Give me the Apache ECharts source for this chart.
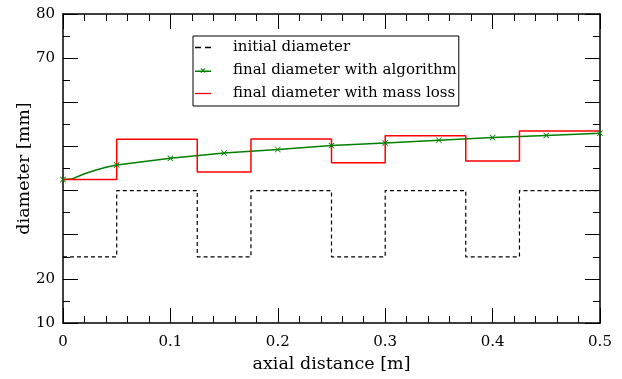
<!DOCTYPE html>
<html>
<head>
<meta charset="utf-8">
<script src="https://cdn.jsdelivr.net/npm/echarts@6/dist/echarts.min.js"></script>
<style>
  html, body { margin: 0; padding: 0; background: #fff; }
  #chart { width: 622px; height: 379px; }
</style>
</head>
<body>
<div id="chart"></div>
<script>
// step edges along the axis (m)
const stepEdges = [0, 0.05, 0.125, 0.175, 0.25, 0.3, 0.375, 0.425, 0.5];
// diameters on each step (mm)
const initialLevels = [25, 40, 25, 40, 25, 40, 25, 40];
const massLossLevels = [42.5, 51.6, 44.2, 51.7, 46.3, 52.4, 46.7, 53.5];
// algorithm curve
const algX = [0, 0.008, 0.015, 0.02, 0.03, 0.04, 0.05, 0.1, 0.15, 0.2, 0.25, 0.3, 0.35, 0.4, 0.45, 0.5];
const algY = [42.5, 42.6, 43.3, 43.8, 44.6, 45.3, 45.8, 47.3, 48.5, 49.3, 50.2, 50.8, 51.4, 52.0, 52.5, 53.0];
const markerX = [0, 0.05, 0.1, 0.15, 0.2, 0.25, 0.3, 0.35, 0.4, 0.45, 0.5];
// tick labels shown on the y axis
const yTickLabels = [10, 20, 70, 80];

const seriesNames = ['initial diameter', 'final diameter with algorithm', 'final diameter with mass loss'];

const font = 'DejaVu Serif';
const crossPath = 'path://M0,1 L1,0 L5,4 L9,0 L10,1 L6,5 L10,9 L9,10 L5,6 L1,10 L0,9 L4,5 Z';

// legend icons: dashed line, line with cross, plain line
const iconDash = 'path://M0,0h6v1.3h-6z M10,0h6v1.3h-6z';
const iconCross = 'path://M0,3.4h16v1.3h-16z M5.5,1.5l0.7,-0.7l1.8,1.8l1.8,-1.8l0.7,0.7l-1.8,1.8l1.8,1.8l-0.7,0.7l-1.8,-1.8l-1.8,1.8l-0.7,-0.7l1.8,-1.8z';
const iconLine = 'path://M0,0h16v1.3h-16z';

// step data: one point per edge, last level repeated at the end
const toSteps = (levels) => {
  const d = levels.map((v, i) => [stepEdges[i], v]);
  d.push([stepEdges[stepEdges.length - 1], levels[levels.length - 1]]);
  return d;
};

const algData = algX.map((x, i) => {
  const item = {value: [x, algY[i]]};
  if (!markerX.includes(x)) item.symbol = 'none';
  return item;
});

const axisCommon = {
  axisLine: {show: true, onZero: false, lineStyle: {color: '#000', width: 1.5}},
  axisTick: {show: true, inside: true, length: 15, lineStyle: {color: '#000', width: 1}},
  minorTick: {show: true, length: 7, lineStyle: {color: '#000', width: 1}},
  splitLine: {show: false}
};

const xBase = Object.assign({type: 'value', min: 0, max: 0.5, interval: 0.1}, axisCommon);
xBase.minorTick = Object.assign({splitNumber: 5}, axisCommon.minorTick);
const yBase = Object.assign({type: 'value', min: 10, max: 80, interval: 10}, axisCommon);
yBase.minorTick = Object.assign({splitNumber: 2}, axisCommon.minorTick);

const chart = echarts.init(document.getElementById('chart'));
chart.setOption({
  animation: false,
  grid: {left: 63, right: 22, top: 14, bottom: 56},
  legend: {
    data: [
      {name: seriesNames[0], icon: iconDash},
      {name: seriesNames[1], icon: iconCross},
      {name: seriesNames[2], icon: iconLine}
    ],
    orient: 'vertical',
    left: 193,
    top: 36,
    padding: [4, 2, 5, 2],
    borderColor: '#000',
    borderWidth: 1,
    backgroundColor: '#fff',
    itemWidth: 16,
    itemHeight: 14,
    itemGap: 8,
    textStyle: {fontFamily: font, fontSize: 15, color: '#000', padding: [0, 0, 0, 17]}
  },
  xAxis: [
    Object.assign({}, xBase, {
      position: 'bottom',
      name: 'axial distance [m]',
      nameLocation: 'middle',
      nameGap: 32,
      nameMoveOverlap: false,
      nameTextStyle: {fontFamily: font, fontSize: 17.5, color: '#000'},
      axisLabel: {fontFamily: font, fontSize: 15, color: '#000', margin: 12}
    }),
    Object.assign({}, xBase, {position: 'top', axisLabel: {show: false}})
  ],
  yAxis: [
    Object.assign({}, yBase, {
      position: 'left',
      name: 'diameter [mm]',
      nameLocation: 'middle',
      nameGap: 30,
      nameMoveOverlap: false,
      nameTextStyle: {fontFamily: font, fontSize: 17.5, color: '#000'},
      axisLabel: {
        fontFamily: font, fontSize: 15, color: '#000', margin: 8,
        formatter: (v) => (yTickLabels.includes(v) ? String(v) : '')
      }
    }),
    Object.assign({}, yBase, {position: 'right', axisLabel: {show: false}})
  ],
  series: [
    {
      name: seriesNames[0],
      type: 'line',
      step: 'end',
      data: toSteps(initialLevels),
      symbol: 'none',
      lineStyle: {color: '#000', width: 1.2, type: [4, 3]},
      itemStyle: {color: '#000'}
    },
    {
      name: seriesNames[1],
      type: 'line',
      data: algData,
      symbol: crossPath,
      symbolSize: 6,
      z: 3,
      lineStyle: {color: '#008000', width: 1.5},
      itemStyle: {color: '#008000'}
    },
    {
      name: seriesNames[2],
      type: 'line',
      step: 'end',
      data: toSteps(massLossLevels),
      symbol: 'none',
      lineStyle: {color: '#ff0000', width: 1.5},
      itemStyle: {color: '#ff0000'}
    }
  ]
});
</script>
</body>
</html>
